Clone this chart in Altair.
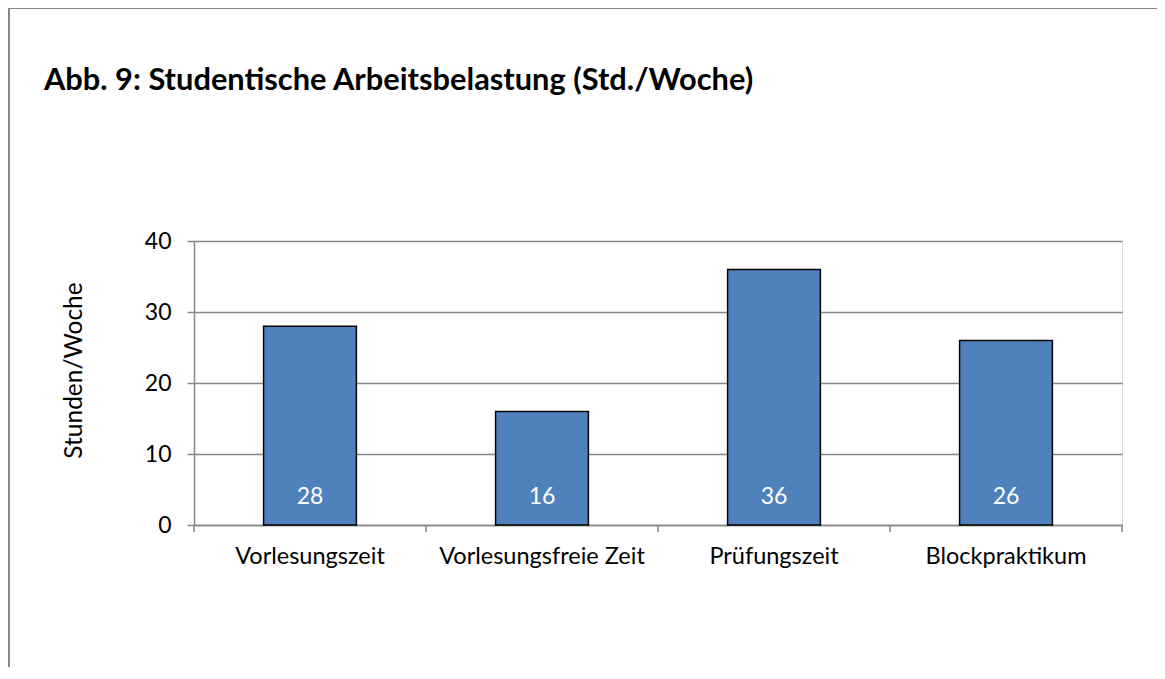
import altair as alt
import pandas as pd

categories = ["Vorlesungszeit", "Vorlesungsfreie Zeit", "Prüfungszeit", "Blockpraktikum"]
values = [28, 16, 36, 26]
y_ticks = [0, 10, 20, 30, 40]

df = pd.DataFrame({"Phase": categories, "Stunden": values})

FONT = "Lato"
GRAY = "#868686"
PLOT_W = 928
PAD_INNER = 0.6
PAD_OUTER = 0.3
STEP = PLOT_W / (len(categories) - PAD_INNER + 2 * PAD_OUTER)
GAP_HALF = STEP * PAD_INNER / 2  # half of the gap between bars, in pixels

x_scale = alt.Scale(paddingInner=PAD_INNER, paddingOuter=PAD_OUTER)

x_enc = alt.X(
    "Phase:N",
    sort=categories,
    scale=x_scale,
    axis=alt.Axis(
        title=None, labelAngle=0, ticks=False, grid=False, labelLimit=500,
        domainColor=GRAY, domainWidth=1.5,
        labelPadding=19, labelFontSize=23.5, labelColor="#000000", labelFont=FONT,
    ),
)
y_enc = alt.Y(
    "Stunden:Q",
    scale=alt.Scale(domain=[0, 40], nice=False),
    axis=alt.Axis(
        title="Stunden/Woche", values=y_ticks, grid=True, gridColor=GRAY, gridWidth=1.5,
        domainColor=GRAY, tickColor=GRAY, tickSize=7, tickWidth=1.5, domainWidth=1.5,
        labelPadding=16, labelFontSize=23, labelColor="#000000", labelFont=FONT,
        titleFont=FONT, titleFontSize=24.5, titleFontWeight="normal", titleColor="#000000",
        titleX=-120, titleY=129, titleBaseline="middle", titleAngle=-90, titleAlign="center",
    ),
)

base = alt.Chart(df)

frame = base.mark_rect(fill=None, stroke="#888888", strokeWidth=2).encode(
    x=alt.value(-185), x2=alt.value(2000), y=alt.value(-233), y2=alt.value(2000)
)

# category-boundary ticks below the x axis (Excel style)
boundary_ticks = base.mark_rule(color=GRAY, strokeWidth=1.5, xOffset=GAP_HALF).encode(
    x=alt.X("Phase:N", sort=categories, bandPosition=1),
    y=alt.datum(0),
    y2=alt.datum(-1),
)
first_tick = base.transform_filter(
    alt.datum.Phase == categories[0]
).mark_rule(color=GRAY, strokeWidth=1.5, xOffset=-GAP_HALF).encode(
    x=alt.X("Phase:N", sort=categories, bandPosition=0),
    y=alt.datum(0),
    y2=alt.datum(-1),
)

bars = base.mark_bar(color="#4F81BD", stroke="#000000", strokeWidth=1.5).encode(
    x=x_enc, y=y_enc
)

labels = base.mark_text(
    color="#FFFFFF", fontSize=23, font=FONT, baseline="middle", dy=-28
).encode(
    x=alt.X("Phase:N", sort=categories),
    y=alt.datum(0),
    text=alt.Text("Stunden:Q"),
)

chart = alt.layer(frame, bars, boundary_ticks, first_tick, labels).properties(
    width=PLOT_W,
    height=284,
    autosize=alt.AutoSizeParams(type="none"),
    padding={"left": 186, "top": 233, "right": 35, "bottom": 142},
    title=alt.TitleParams(
        "Abb. 9: Studentische Arbeitsbelastung (Std./Woche)",
        anchor="start", frame="group", dx=-150, dy=90, offset=0,
        font=FONT, fontSize=30.8, fontWeight="bold", color="#000000",
    ),
).configure_view(stroke=None).configure(background="#FFFFFF")

chart.save("out.html", embed_options={"renderer": "svg", "actions": False})
